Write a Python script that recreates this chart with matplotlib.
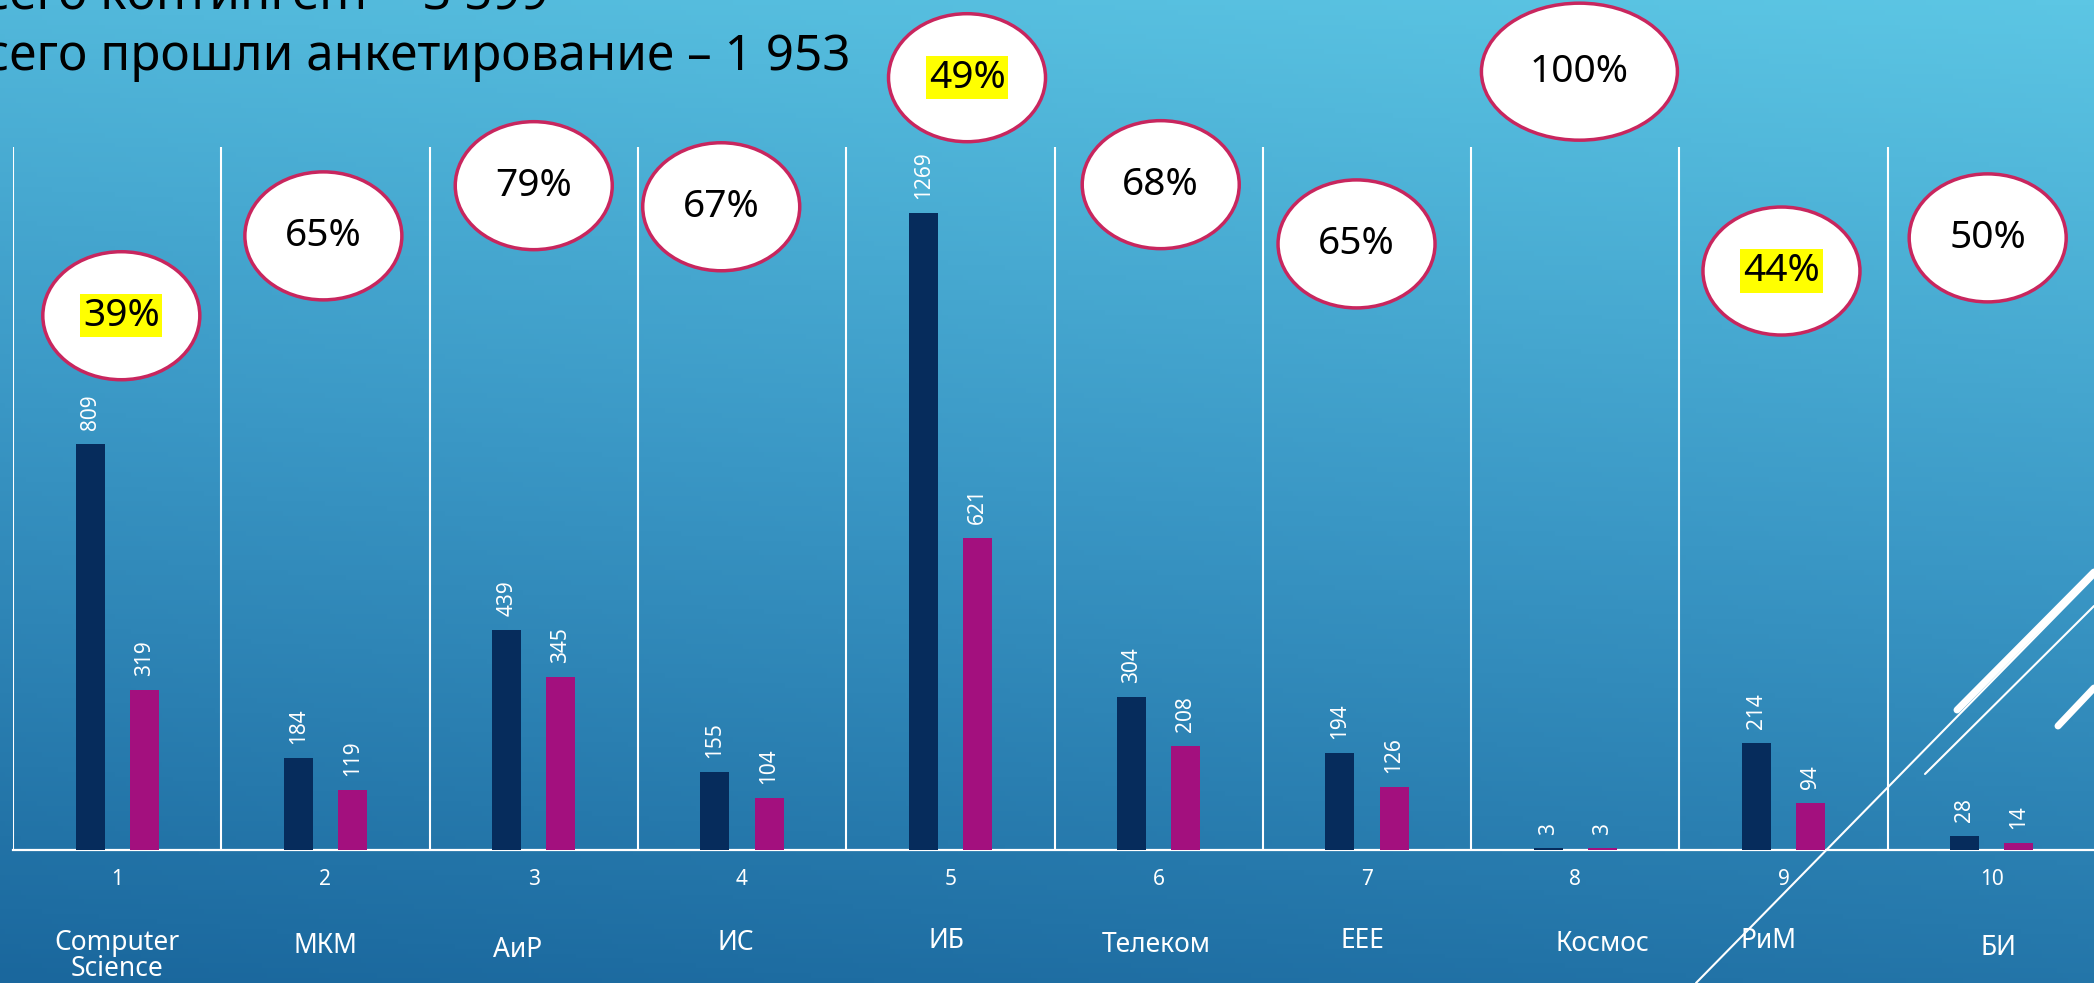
import numpy as np
import matplotlib
matplotlib.use("Agg")
import matplotlib.pyplot as plt
from matplotlib.patches import Ellipse
from matplotlib.lines import Line2D
from matplotlib.colors import LinearSegmentedColormap

plt.rcParams['font.family'] = ['Noto Sans', 'DejaVu Sans']

# данные
numbers = ["1", "2", "3", "4", "5", "6", "7", "8", "9", "10"]
names = ["Computer\nScience", "МКМ", "АиР", "ИС", "ИБ", "Телеком", "EEE", "Космос", "РиМ", "БИ"]
contingent = [809, 184, 439, 155, 1269, 304, 194, 3, 214, 28]
surveyed = [319, 119, 345, 104, 621, 208, 126, 3, 94, 14]
percents = ["39%", "65%", "79%", "67%", "49%", "68%", "65%", "100%", "44%", "50%"]
highlighted = [True, False, False, False, True, False, False, False, True, False]
title_lines = ["Всего контингент – 3 599", "Всего прошли анкетирование – 1 953"]

# раскладка (не данные): центры овалов, положение подписей категорий
ellipse_x = [0.02, 0.99, 2.0, 2.9, 4.08, 5.01, 5.95, 7.02, 7.99, 8.98]
ellipse_y = [1064, 1223, 1323, 1281, 1538, 1325, 1207, 1550, 1153, 1219]
ellipse_big = [False] * 7 + [True] + [False] * 2
name_x = [0.0, 1.0, 1.92, 2.97, 3.98, 4.99, 5.98, 7.13, 7.93, 9.03]
name_top = [937, 940, 944, 937, 935, 939, 935, 938, 935, 942]   # верх заглавных, px

W, H = 2094, 983
fig = plt.figure(figsize=(W / 100, H / 100), dpi=100)

# фон-градиент
bg = fig.add_axes([0, 0, 1, 1], zorder=-10)
yy, xx = np.mgrid[0:1:200j, 0:1:400j]
s = 0.85 * yy + 0.15 * (1 - xx)
cmap = LinearSegmentedColormap.from_list("bg", ["#5cc6e4", "#3a97c5", "#1a679d"])
bg.imshow(s, cmap=cmap, aspect='auto', extent=[0, 1, 0, 1], vmin=0, vmax=1)
bg.axis('off')

left, bottom, top = 13, 850, 147
ax = fig.add_axes([left / W, 1 - bottom / H, 2083 / W, (bottom - top) / H])
ax.set_facecolor('none')
ax.set_xlim(-0.5, 9.5)
ax.set_ylim(0, 1400)

x = np.arange(len(numbers))
w = 0.139
off = 0.13
ax.bar(x - off, contingent, w, color='#062c5c', zorder=3)
ax.bar(x + off, surveyed, w, color='#a3107e', zorder=3)

for i in range(len(x)):
    for xv, v in ((x[i] - off, contingent[i]), (x[i] + off, surveyed[i])):
        ax.annotate(str(v), (xv, v), xytext=(0, 10), textcoords='offset points',
                    rotation=90, ha='center', va='bottom', color='white', fontsize=15,
                    fontweight='light')

for b in np.arange(-0.5, 10, 1):
    ax.axvline(b, color='white', lw=1.5, zorder=2)

for sp in ['top', 'right', 'left']:
    ax.spines[sp].set_visible(False)
ax.spines['bottom'].set_color('white')
ax.spines['bottom'].set_linewidth(1.6)
ax.set_yticks([])
ax.set_xticks(x)
ax.set_xticklabels(numbers, color='white', fontsize=15)
ax.tick_params(axis='x', length=0, pad=14)

tr = ax.get_xaxis_transform()
for i in range(len(names)):
    ya = (bottom - (name_top[i] - 8)) / (bottom - top)
    ax.text(name_x[i], ya, names[i], transform=tr, ha='center', va='top',
            color='white', fontsize=19, linespacing=0.92, clip_on=False)

# овалы с процентами
cat_px = 2083 / 10
unit_px = (bottom - top) / 1400
for i in range(len(percents)):
    ew, eh = (196, 137) if ellipse_big[i] else (157, 128)
    e = Ellipse((ellipse_x[i], ellipse_y[i]), ew / cat_px, eh / unit_px,
                facecolor='white', edgecolor='#c8265e', lw=2.5, zorder=5, clip_on=False)
    ax.add_patch(e)
    bbox = dict(facecolor='#ffff00', edgecolor='none', pad=2) if highlighted[i] else None
    ax.text(ellipse_x[i], ellipse_y[i], percents[i], ha='center', va='center',
            fontsize=28, color='black', bbox=bbox, zorder=6, clip_on=False)

# заголовок: вторая строка заканчивается на x=850 px, первая выровнена по её левому краю
t2 = fig.text(850 / W, 1 - 70 / H, title_lines[1], ha='right', va='baseline',
              fontsize=35.5, color='black')
fig.canvas.draw()
x0 = t2.get_window_extent().x0 / W
fig.text(x0, 1 - 10 / H, title_lines[0], ha='left', va='baseline',
         fontsize=35.5, color='black')

# декоративные линии
deco = [((1696, 983), (2094, 577), 1.5),
        ((1925, 774), (2094, 606), 1.5),
        ((1957, 710), (2094, 572), 5),
        ((2058, 726), (2094, 688), 5)]
for (xa, ya), (xb, yb), lw in deco:
    fig.add_artist(Line2D([xa / W, xb / W], [1 - ya / H, 1 - yb / H], color='white',
                          lw=lw, solid_capstyle='round', transform=fig.transFigure, zorder=4))

fig.savefig("out.png", dpi=100)
